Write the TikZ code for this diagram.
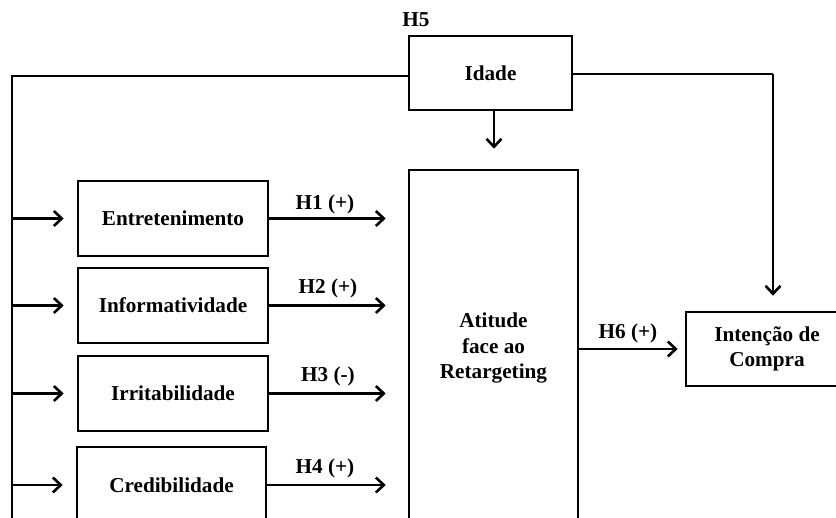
\documentclass[tikz,border=0pt]{standalone}
\usepackage{fontspec}
\setmainfont{Liberation Serif}
\usetikzlibrary{arrows.meta}
\begin{document}
\begin{tikzpicture}[x=0.5pt,y=-0.5pt,
  font=\fontsize{10.6}{12.7}\selectfont\bfseries,
  box/.style={draw,line width=1.3pt,rectangle,inner sep=0pt,align=center},
  conn/.style={line width=1.3pt},
  arr/.style={line width=1.3pt,-{Straight Barb[length=4pt,width=7.5pt]}},
  hlab/.style={inner sep=0pt}]
\useasboundingbox (0,0) rectangle (836,518);
\clip (0,0) rectangle (836,518);
% boxes
\node[box,minimum width=163*0.5pt,minimum height=74*0.5pt] (idade) at (490.5,73) {Idade};
\node[box,minimum width=190*0.5pt,minimum height=75*0.5pt] (ent) at (173,218.5) {Entretenimento};
\node[box,minimum width=190*0.5pt,minimum height=75*0.5pt] (inf) at (173,305.5) {Informatividade};
\node[box,minimum width=190*0.5pt,minimum height=75*0.5pt] (irr) at (173,393.5) {Irritabilidade};
\node[box,minimum width=189*0.5pt,minimum height=76*0.5pt] (cred) at (171.5,485) {Credibilidade};
\node[box,minimum width=169*0.5pt,minimum height=356*0.5pt] (att) at (493.5,348) {Atitude\\face ao\\Retargeting};
\node[box,minimum width=162*0.5pt,minimum height=74*0.5pt] (int) at (767,349) {Intenção de\\Compra};
% labels
\node[hlab] (h5) at (416,20) {H5};
\node[hlab] (h1) at (325,204) {H1 (+)};
\node[hlab] (h2) at (328,288) {H2 (+)};
\node[hlab] (h3) at (328,376) {H3 (-)};
\node[hlab] (h4) at (325,468) {H4 (+)};
\node[hlab] (h6) at (628,333) {H6 (+)};
% coordinates
\coordinate (lc) at (12,76);
\coordinate (lb) at (12,530);
\coordinate (rc) at (773,74);
\coordinate (ia) at (494,110);
% connectors
\draw[conn] (idade.west |- lc) -- (lc) -- (lb);
\foreach \b in {ent,inf,irr,cred}{
  \draw[arr,shorten >=6.5pt] (lc |- \b.west) -- (\b.west);
  \draw[arr,shorten >=11pt] (\b.east) -- (\b.east -| att.west);
}
\draw[arr,shorten >=10pt] (ia) -- (ia |- att.north);
\draw[conn] (idade.east |- rc) -- (rc);
\draw[arr,shorten >=7.5pt] (rc) -- (rc |- int.north);
\draw[arr,shorten >=3.5pt] (att.east |- int.west) -- (int.west);
\end{tikzpicture}
\end{document}
